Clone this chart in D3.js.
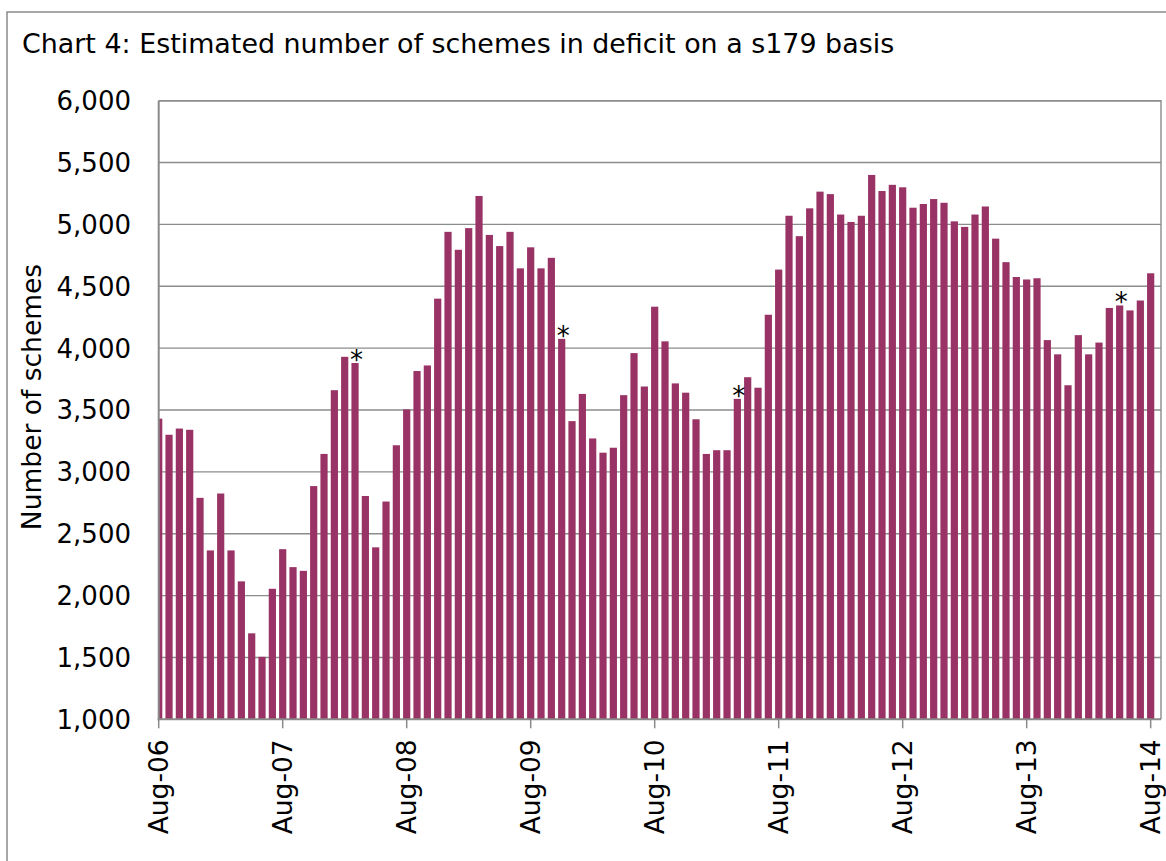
<!DOCTYPE html>
<html>
<head>
  <meta charset="utf-8">
  <title>Chart 4</title>
  <style>
    body { margin: 0; background: #fff; }
    text { font-family: "DejaVu Sans", Verdana, sans-serif; fill: #000; }
  </style>
</head>
<body>
<script src="https://d3js.org/d3.v7.min.js"></script>
<svg id="chart" width="1166" height="861"></svg>

<script>
    // monthly values, Aug-06 .. Aug-14
    var schemes = [
        3430, 3300, 3350, 3340, 2790, 2365, 2825, 2365, 2115, 1695, 1505, 2055,
        2375, 2230, 2200, 2885, 3145, 3660, 3930, 3880, 2805, 2390, 2760, 3215,
        3505, 3815, 3860, 4400, 4940, 4795, 4970, 5230, 4915, 4825, 4940, 4645,
        4815, 4645, 4730, 4075, 3410, 3630, 3270, 3155, 3195, 3620, 3960, 3690,
        4335, 4055, 3715, 3640, 3425, 3145, 3175, 3175, 3590, 3765, 3680, 4270,
        4635, 5070, 4905, 5130, 5265, 5245, 5080, 5020, 5070, 5400, 5270, 5320,
        5300, 5135, 5165, 5205, 5175, 5025, 4980, 5080, 5145, 4885, 4695, 4575,
        4555, 4565, 4065, 3950, 3700, 4105, 3950, 4045, 4325, 4345, 4305, 4385,
        4605
    ];
    var months = d3.timeMonth.range(new Date(2006, 7, 1), new Date(2014, 8, 1)).map(d3.timeFormat("%b-%y"));
    var xTickLabels = ["Aug-06", "Aug-07", "Aug-08", "Aug-09", "Aug-10", "Aug-11", "Aug-12", "Aug-13", "Aug-14"];
    var yTicks = [1000, 1500, 2000, 2500, 3000, 3500, 4000, 4500, 5000, 5500, 6000];
    var flagged = ["Mar-08", "Nov-09", "Apr-11", "May-14"];   // months marked with *

    var svg = d3.select("#chart");
    var pLeft = 158.7, pRight = 1161, pTop = 100.7, pBottom = 719.3;

    var x = d3.scaleLinear().domain([0, 97]).range([pLeft, pRight]);
    var y = d3.scaleLinear().domain([1000, 6000]).range([pBottom, pTop]);
    var barW = 7.2;

    // outer frame (runs off the picture at right and bottom)
    svg.append("rect")
        .attr("x", 7).attr("y", 12)
        .attr("width", 1300).attr("height", 1000)
        .attr("fill", "none").attr("stroke", "#8a8a8a").attr("stroke-width", 1.5);

    svg.append("text")
        .attr("x", 22).attr("y", 53)
        .style("font-size", "26.9px")
        .text("Chart 4: Estimated number of schemes in deficit on a s179 basis");

    svg.append("defs").append("clipPath").attr("id", "plot")
        .append("rect")
        .attr("x", pLeft).attr("y", pTop)
        .attr("width", pRight - pLeft).attr("height", pBottom - pTop);

    // gridlines
    svg.append("g").selectAll("line")
        .data(yTicks.slice(1))
        .enter().append("line")
        .attr("x1", pLeft).attr("x2", pRight)
        .attr("y1", function(d) { return y(d); })
        .attr("y2", function(d) { return y(d); })
        .attr("stroke", "#8c8c8c").attr("stroke-width", 1.4);

    // bars
    svg.append("g").attr("clip-path", "url(#plot)")
        .selectAll("rect")
        .data(schemes)
        .enter().append("rect")
        .attr("x", function(d, i) { return x(i) - barW / 2; })
        .attr("width", barW)
        .attr("y", function(d) { return y(d); })
        .attr("height", function(d) { return pBottom - y(d); })
        .attr("fill", "#993366");

    // asterisks
    svg.append("g").selectAll("text")
        .data(flagged)
        .enter().append("text")
        .attr("x", function(m) { return x(months.indexOf(m)) + 1.5; })
        .attr("y", function(m) { return y(schemes[months.indexOf(m)]) + 6; })
        .attr("text-anchor", "middle")
        .style("font-size", "26px")
        .text("*");

    // right + top border of plot area
    svg.append("path")
        .attr("d", "M" + pLeft + "," + pTop + "H" + pRight + "V" + pBottom)
        .attr("fill", "none").attr("stroke", "#8c8c8c").attr("stroke-width", 1.4);

    // y axis
    var yAxis = svg.append("g");
    yAxis.append("line")
        .attr("x1", pLeft).attr("x2", pLeft).attr("y1", pTop).attr("y2", pBottom + 1)
        .attr("stroke", "#8a8a8a").attr("stroke-width", 2);
    yAxis.selectAll("text")
        .data(yTicks)
        .enter().append("text")
        .attr("x", 131)
        .attr("y", function(d) { return y(d); })
        .attr("dy", "0.36em")
        .attr("text-anchor", "end")
        .style("font-size", "26px")
        .text(d3.format(","));

    svg.append("text")
        .attr("transform", "translate(41,397) rotate(-90)")
        .attr("text-anchor", "middle")
        .style("font-size", "26.5px")
        .text("Number of schemes");

    // x axis
    var xAxis = svg.append("g");
    xAxis.append("line")
        .attr("x1", pLeft - 1).attr("x2", pRight).attr("y1", pBottom).attr("y2", pBottom)
        .attr("stroke", "#8a8a8a").attr("stroke-width", 2);
    var xt = xAxis.selectAll("g")
        .data(xTickLabels)
        .enter().append("g")
        .attr("transform", function(m) { return "translate(" + x(months.indexOf(m)) + "," + pBottom + ")"; });
    xt.append("line")
        .attr("y1", 0).attr("y2", 9)
        .attr("stroke", "#8a8a8a").attr("stroke-width", 1.5);
    xt.append("text")
        .attr("transform", "translate(0,20) rotate(-90)")
        .attr("dy", "0.36em")
        .attr("text-anchor", "end")
        .style("font-size", "26.5px")
        .text(function(m) { return m; });
</script>
</body>
</html>
